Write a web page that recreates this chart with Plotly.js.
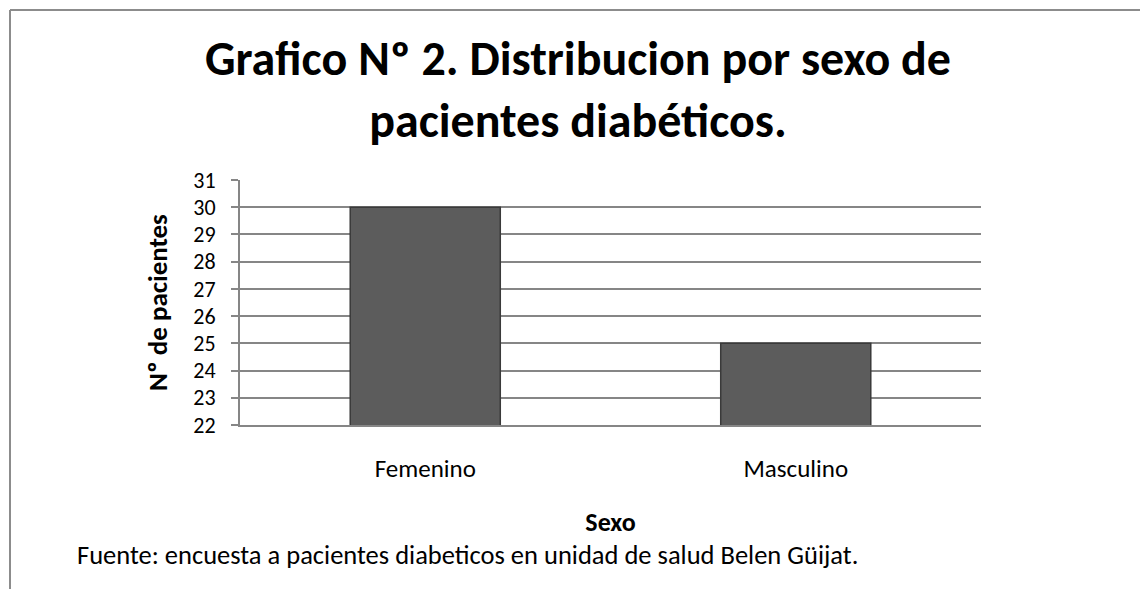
<!DOCTYPE html>
<html>
<head>
<meta charset="utf-8">
<script src="https://cdn.plot.ly/plotly-3.0.1.min.js"></script>
<style>
html,body{margin:0;padding:0;background:#fff;}
#chart{width:1140px;height:589px;}
</style>
</head>
<body>
<div id="chart"></div>
<script>
const categories = ["Femenino", "Masculino"];
const pacientes = [30, 25];
const yTickValues = [22, 23, 24, 25, 26, 27, 28, 29, 30, 31];

const titleText = "Grafico Nº 2. Distribucion por sexo de<br>pacientes diabéticos.";
const yTitle = "Nº de pacientes";
const xTitle = "Sexo";
const fuente = "Fuente: encuesta a pacientes diabeticos en unidad de salud Belen Güijat.";

const FONT = "Carlito, Calibri, Lato, 'Open Sans', sans-serif";
const W = 1140, H = 589;
const M = {l: 240, r: 159, t: 180, b: 164};
const pw = W - M.l - M.r, ph = H - M.t - M.b;
const px = v => (v - M.l) / pw;          // pixel x -> paper
const py = v => (H - M.b - v) / ph;      // pixel y -> paper

const trace = {
  type: "bar",
  x: categories,
  y: pacientes,
  marker: {color: "#5c5c5c", line: {color: "#3a3a3a", width: 1.5}},
  hoverinfo: "x+y"
};

const layout = {
  width: W, height: H,
  margin: M,
  paper_bgcolor: "#ffffff",
  plot_bgcolor: "#ffffff",
  showlegend: false,
  bargap: 0.595,
  font: {family: FONT, color: "#000", size: 24},
  title: {
    text: titleText,
    font: {family: FONT, size: 48, color: "#000", weight: "bold"},
    xref: "container", x: 578 / W, xanchor: "center",
    yref: "container",
    y: 1 - 75 / H, yanchor: "middle"
  },
  xaxis: {
    type: "category",
    showline: true, linecolor: "#868686", linewidth: 2,
    ticks: "", showgrid: false,
    ticklabelstandoff: 20,
    tickfont: {family: FONT, size: 25, color: "#000"},
    title: {text: "<b>" + xTitle + "</b>", font: {family: FONT, size: 26, color: "#000"}, standoff: 30}
  },
  yaxis: {
    range: [22, 31],
    tickvals: yTickValues,
    showline: true, linecolor: "#868686", linewidth: 2,
    ticks: "outside", ticklen: 7, tickcolor: "#868686", tickwidth: 2,
    ticklabelstandoff: 11,
    showgrid: true, gridcolor: "#868686", gridwidth: 2,
    zeroline: false,
    tickfont: {family: FONT, size: 22, color: "#000"},
    title: {text: "<b>" + yTitle + "</b>", font: {family: FONT, size: 27, color: "#000"}, standoff: 18}
  },
  annotations: [{
    xref: "paper", yref: "paper",
    x: px(75), y: py(555),
    xanchor: "left", yanchor: "middle",
    text: fuente, showarrow: false,
    font: {family: FONT, size: 26.5, color: "#000"}
  }],
  shapes: [
    {type: "line", xref: "paper", yref: "paper", x0: px(10), x1: px(1140), y0: py(10), y1: py(10),
     line: {color: "#8c8c8c", width: 2}},
    {type: "line", xref: "paper", yref: "paper", x0: px(10), x1: px(10), y0: py(10), y1: py(589),
     line: {color: "#8c8c8c", width: 2}}
  ]
};

Plotly.newPlot("chart", [trace], layout, {displayModeBar: false, staticPlot: true});
</script>
</body>
</html>
